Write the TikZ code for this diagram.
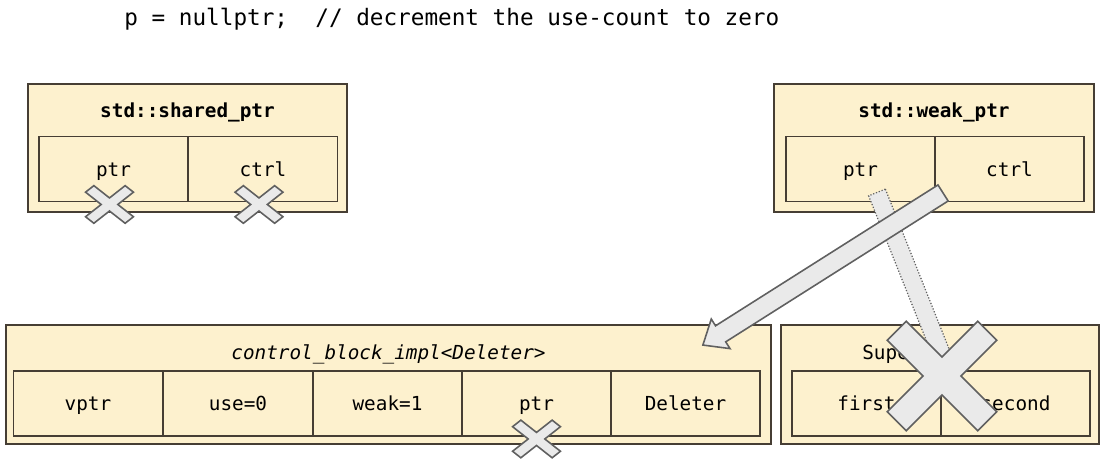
\documentclass[tikz,border=0pt]{standalone}
\usepackage{fontspec}
\setmonofont{DejaVu Sans Mono}
\usetikzlibrary{calc}
\definecolor{boxFill}{RGB}{253,241,206}
\definecolor{boxLine}{RGB}{70,62,52}
\definecolor{barFill}{RGB}{234,234,234}
\definecolor{barLine}{RGB}{96,96,96}
\tikzset{
  xmark/.pic={
    \filldraw[draw=barLine,fill=barFill,line width=0.9pt,rotate=45]
      (0.21,1) -- (0.21,0.21) -- (1,0.21) -- (1,-0.21) -- (0.21,-0.21) -- (0.21,-1)
      -- (-0.21,-1) -- (-0.21,-0.21) -- (-1,-0.21) -- (-1,0.21) -- (-0.21,0.21)
      -- (-0.21,1) -- cycle;
  }
}

\begin{document}
\begin{tikzpicture}[
  x=0.02cm, y=-0.02cm,
  every node/.style={font=\fontsize{11}{13}\selectfont\ttfamily},
  outer/.style={draw=boxLine,fill=boxFill,line width=1.1pt,inner sep=0pt},
  cell/.style={draw=boxLine,fill=boxFill,line width=1.1pt,minimum width=2.98cm,
               minimum height=1.3cm,inner sep=0pt,text height=0.9em,text depth=0.1em},
  ttl/.style={inner sep=0pt,text height=0.9em,text depth=0.1em},
  gbar/.style={draw=barLine,fill=barFill,line width=0.9pt},
  dbar/.style={draw=barLine,fill=barFill,line width=0.7pt,densely dotted}
]
\useasboundingbox (0,0) rectangle (1105,464);
% Statement
\node[ttl,anchor=west,font=\fontsize{12.9}{15}\selectfont\ttfamily] (code) at (124,18)
  {p = nullptr;\ \ // decrement the use-count to zero};
% shared_ptr
\node[outer,minimum width=6.38cm,minimum height=2.56cm] (sp) at (187.5,148) {};
\node[ttl,font=\fontsize{11}{13}\selectfont\ttfamily\bfseries] (sptitle) at (187.5,110) {std::shared\_ptr};
\node[cell] (spptr)  at (113.5,169) {ptr};
\node[cell] (spctrl) at (263,169)   {ctrl};
% weak_ptr
\node[outer,minimum width=6.4cm,minimum height=2.56cm] (wp) at (934,148) {};
\node[ttl,font=\fontsize{11}{13}\selectfont\ttfamily\bfseries] (wptitle) at (934,110) {std::weak\_ptr};
\node[cell] (wpptr)  at (860.5,169)  {ptr};
\node[cell] (wpctrl) at (1009.5,169) {ctrl};
% control block
\node[outer,minimum width=15.3cm,minimum height=2.38cm] (cb) at (388.5,384.5) {};
\node[ttl,font=\fontsize{11}{13}\selectfont\ttfamily\itshape] (cbtitle) at (388.5,352) {control\_block\_impl<Deleter>};
\node[cell] (cbvptr) at (88,403.5)    {vptr};
\node[cell] (cbuse)  at (238,403.5)   {use=0};
\node[cell] (cbweak) at (387.5,403.5) {weak=1};
\node[cell] (cbptr)  at (536.5,403.5) {ptr};
\node[cell] (cbdel)  at (685.5,403.5) {Deleter};
% managed object
\node[outer,minimum width=6.36cm,minimum height=2.38cm] (sup) at (940,384.5) {};
\node[ttl,anchor=west] (suptitle) at (862,352) {Super};
\node[cell] (supfirst)  at (866.5,403.5)  {first};
\node[cell] (supsecond) at (1015.5,403.5) {second};
% dangling pointer from weak_ptr
\coordinate (bandS) at ($(wpptr.south)+(16.5,-10)$);
\coordinate (bandE) at ($(sup.center)+(8,-14)$);
\filldraw[dbar] ($(bandS)!0.18cm!90:(bandE)$) -- ($(bandE)!0.18cm!-90:(bandS)$)
  -- ($(bandE)!0.18cm!90:(bandS)$) -- ($(bandS)!0.18cm!-90:(bandE)$) -- cycle;
% weak_ptr keeps the control block
\coordinate (arrS) at ($(wpctrl.south west)+(9,-9.5)$);
\coordinate (arrT) at ($(cb.north east)+(-69,21)$);
\coordinate (arrH) at ($(arrT)!0.42cm!(arrS)$);
\filldraw[gbar] ($(arrS)!0.19cm!90:(arrT)$) -- ($(arrH)!0.19cm!90:(arrT)$)
  -- ($(arrH)!0.35cm!90:(arrT)$) -- (arrT) -- ($(arrH)!0.35cm!-90:(arrT)$)
  -- ($(arrH)!0.19cm!-90:(arrT)$) -- ($(arrS)!0.19cm!-90:(arrT)$) -- cycle;
% crossed out
\pic[xscale=28,yscale=22] at ($(spptr.south)+(-4,2)$) {xmark};
\pic[xscale=28,yscale=22] at ($(spctrl.south)+(-4,2)$) {xmark};
\pic[xscale=28,yscale=22] at ($(cbptr.south)+(0,2)$) {xmark};
\pic[scale=64] at ($(sup.center)+(2,-8.5)$) {xmark};
\end{tikzpicture}
\end{document}
